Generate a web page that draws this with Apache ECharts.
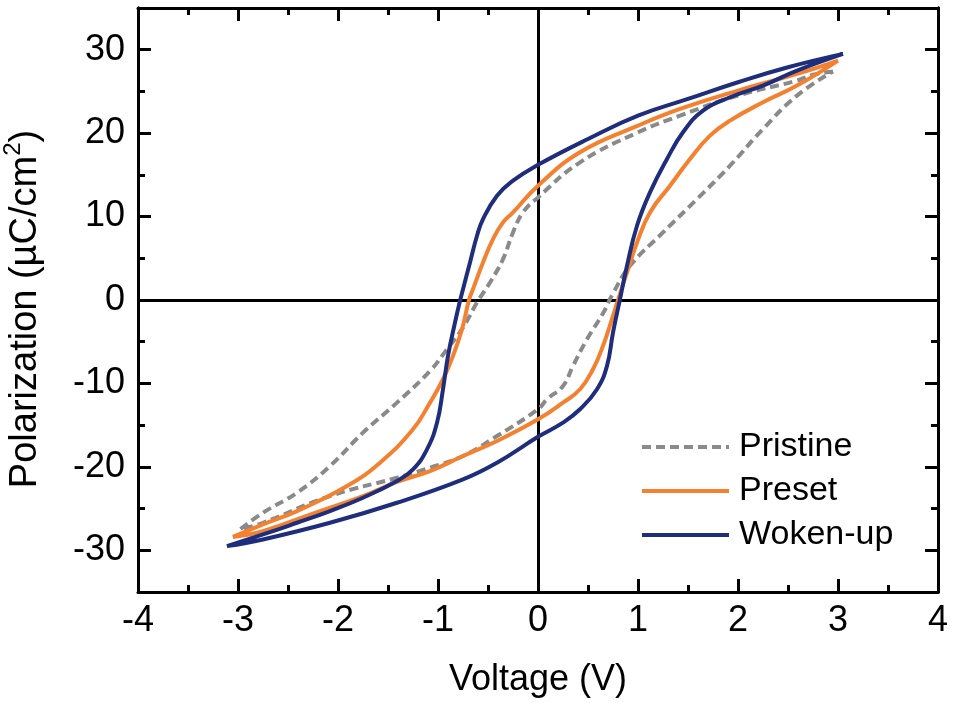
<!DOCTYPE html>
<html>
<head>
<meta charset="utf-8">
<script src="https://cdn.jsdelivr.net/npm/echarts@6.0.0/dist/echarts.min.js"></script>
<style>
  html, body { margin: 0; padding: 0; background: #fff; }
  #chart { width: 954px; height: 703px; }
</style>
</head>
<body>
<div id="chart"></div>
<script>
// P–V hysteresis loops: [voltage (V), polarization (µC/cm²)], traced from the
// positive tip along the upper branch to the negative tip and back.
const pristine = [
  [2.95, 27.4], [2.75, 27.0], [2.59, 26.3], [2.0, 24.5], [1.42, 22.1], [1.0, 20.1],
  [0.42, 16.5], [0.0, 12.3], [-0.15, 10.5], [-0.25, 8.1], [-0.35, 4.9], [-0.48, 2.1],
  [-0.61, -0.3], [-0.75, -3.3], [-0.91, -5.9], [-1.08, -8.5], [-1.41, -12.3],
  [-1.75, -15.9], [-2.08, -19.9], [-2.41, -23.1], [-2.75, -25.5], [-2.98, -27.5],
  [-2.75, -26.7], [-2.08, -23.5], [-1.41, -21.3], [-1.08, -20.1], [-0.75, -18.7],
  [-0.41, -16.3], [0.0, -13.1], [0.09, -11.9], [0.25, -10.3], [0.35, -7.9],
  [0.49, -4.7], [0.65, -1.6], [0.75, 0.8], [0.92, 4.1], [1.25, 8.1], [1.59, 12.1],
  [1.92, 16.1], [2.25, 20.5], [2.59, 24.5], [2.95, 27.4]
];
const preset = [
  [3.0, 28.7], [2.59, 27.1], [2.0, 25.1], [1.42, 22.9], [1.0, 20.9], [0.42, 17.7],
  [0.0, 13.7], [-0.25, 10.5], [-0.35, 9.3], [-0.45, 7.3], [-0.55, 4.5],
  [-0.65, 1.3], [-0.69, 0.0], [-0.76, -3.5], [-0.85, -6.7], [-0.95, -9.5],
  [-1.08, -12.3], [-1.25, -15.5], [-1.58, -19.5], [-1.91, -22.3], [-2.41, -25.3],
  [-2.75, -26.9], [-3.05, -28.4],
  [-2.75, -27.7], [-2.25, -25.6], [-1.75, -23.5], [-1.41, -21.8], [-1.08, -20.5],
  [-0.75, -18.7], [-0.41, -16.9], [0.0, -14.3], [0.25, -12.3], [0.42, -10.7],
  [0.55, -8.3], [0.65, -5.5], [0.75, -1.9], [0.80, 0.0], [0.89, 3.3], [0.99, 6.9],
  [1.12, 10.5], [1.32, 13.7], [1.52, 16.9], [1.72, 19.7], [1.92, 21.5], [2.25, 23.7],
  [2.59, 25.7], [3.0, 28.7]
];
const wokenUp = [
  [3.05, 29.5], [2.5, 27.9], [2.0, 26.1], [1.5, 24.1], [1.0, 22.1],
  [0.5, 19.3], [0.0, 16.2], [-0.25, 14.3], [-0.41, 12.5], [-0.55, 9.7], [-0.61, 7.7],
  [-0.68, 4.5], [-0.75, 1.3], [-0.79, -0.6], [-0.83, -2.7], [-0.90, -6.7],
  [-0.95, -10.7], [-1.01, -14.7], [-1.11, -17.9], [-1.25, -20.3], [-1.41, -21.7],
  [-1.75, -23.7], [-2.08, -25.3], [-2.41, -26.7], [-2.75, -28.1], [-3.11, -29.5],
  [-2.75, -28.7], [-2.08, -26.7], [-1.41, -24.3], [-0.75, -21.5], [-0.41, -19.5],
  [0.0, -16.4], [0.25, -14.7], [0.42, -13.1], [0.59, -10.7], [0.69, -7.9],
  [0.75, -3.9], [0.82, 0.1], [0.89, 4.1], [0.99, 8.9], [1.12, 12.9], [1.29, 16.9],
  [1.45, 20.1], [1.65, 22.7], [1.92, 24.3], [2.25, 25.7], [2.59, 27.5], [3.05, 29.5]
];

const seriesNames = ['Pristine', 'Preset', 'Woken-up'];
const yMajorTicks = [-30, -20, -10, 0, 10, 20, 30];
const yMinorTicks = [-25, -15, -5, 5, 15, 25];

const FONT = '"Liberation Sans", Arial, Helvetica, sans-serif';
const black = '#000';

const frameLine = { show: true, onZero: false, lineStyle: { color: black, width: 3 } };

function xAxisCfg(pos, withLabels) {
  return {
    type: 'value', position: pos, min: -4, max: 4, interval: 1,
    axisLine: frameLine,
    axisTick: { show: true, inside: true, length: 13, lineStyle: { color: black, width: 3 } },
    minorTick: { show: true, splitNumber: 2, length: 7, lineStyle: { color: black, width: 3 } },
    splitLine: { show: false },
    minorSplitLine: { show: false },
    axisLabel: withLabels
      ? { show: true, color: black, fontSize: 36, fontFamily: FONT, margin: 11 }
      : { show: false },
    name: withLabels ? 'Voltage (V)' : '',
    nameLocation: 'middle',
    nameGap: 70,
    nameTextStyle: { color: black, fontSize: 36, fontFamily: FONT }
  };
}

function yAxisCfg(pos, ticks, len, withLabels) {
  return {
    type: 'value', position: pos, min: -35, max: 35, interval: 5,
    axisLine: frameLine,
    axisTick: { show: true, inside: true, length: len, customValues: ticks,
                lineStyle: { color: black, width: 3 } },
    splitLine: { show: false },
    axisLabel: withLabels
      ? { show: true, color: black, fontSize: 36, fontFamily: FONT, margin: 13,
          customValues: yMajorTicks }
      : { show: false },
    name: withLabels ? '{t|Polarization (µC/cm}{s|2}{t|)}' : '',
    nameLocation: 'middle',
    nameRotate: 90,
    nameGap: 93,
    nameTextStyle: {
      color: black, fontFamily: FONT,
      padding: [0, 18, 0, 0],
      rich: {
        t: { fontSize: 38, fontFamily: FONT, color: black, lineHeight: 44, verticalAlign: 'bottom' },
        s: { fontSize: 24, fontFamily: FONT, color: black, lineHeight: 44, verticalAlign: 'top', padding: [0, 0, 14, 0] }
      }
    }
  };
}

const lineColors = ['#8a8a8a', '#f4812f', '#1e2d7c'];
const lineTypes = [[9, 5], 'solid', 'solid'];
const datasets = [pristine, preset, wokenUp];

const series = datasets.map((d, i) => ({
  name: seriesNames[i],
  type: 'line',
  xAxisIndex: 0,
  yAxisIndex: 0,
  data: d,
  smooth: 0.45,
  showSymbol: false,
  symbol: 'none',
  clip: true,
  lineStyle: { color: lineColors[i], width: 4, type: lineTypes[i] },
  itemStyle: { color: lineColors[i] },
  z: 3 + i
}));

// Zero lines through the origin
series[0].markLine = {
  silent: true,
  symbol: 'none',
  label: { show: false },
  lineStyle: { color: black, width: 3, type: 'solid' },
  data: [{ xAxis: 0 }, { yAxis: 0 }],
  z: 1
};

const chart = echarts.init(document.getElementById('chart'), null, { renderer: 'canvas' });
chart.setOption({
  animation: false,
  backgroundColor: '#fff',
  grid: { left: 138, right: 16, top: 8, bottom: 111, containLabel: false, outerBoundsMode: 'none' },
  xAxis: [xAxisCfg('bottom', true), xAxisCfg('top', false)],
  yAxis: [
    yAxisCfg('left', yMajorTicks, 13, true),
    yAxisCfg('right', yMajorTicks, 13, false),
    yAxisCfg('left', yMinorTicks, 7, false),
    yAxisCfg('right', yMinorTicks, 7, false)
  ],
  legend: {
    orient: 'vertical',
    left: 640,
    top: 425,
    padding: 0,
    itemWidth: 87,
    itemHeight: 4,
    itemGap: 0,
    itemStyle: { opacity: 0 },
    lineStyle: { width: 4 },
    data: seriesNames,
    textStyle: { color: black, fontSize: 34, fontFamily: FONT, lineHeight: 44, padding: [0, 0, 0, 5] },
    selectedMode: false
  },
  series: series
});
</script>
</body>
</html>
